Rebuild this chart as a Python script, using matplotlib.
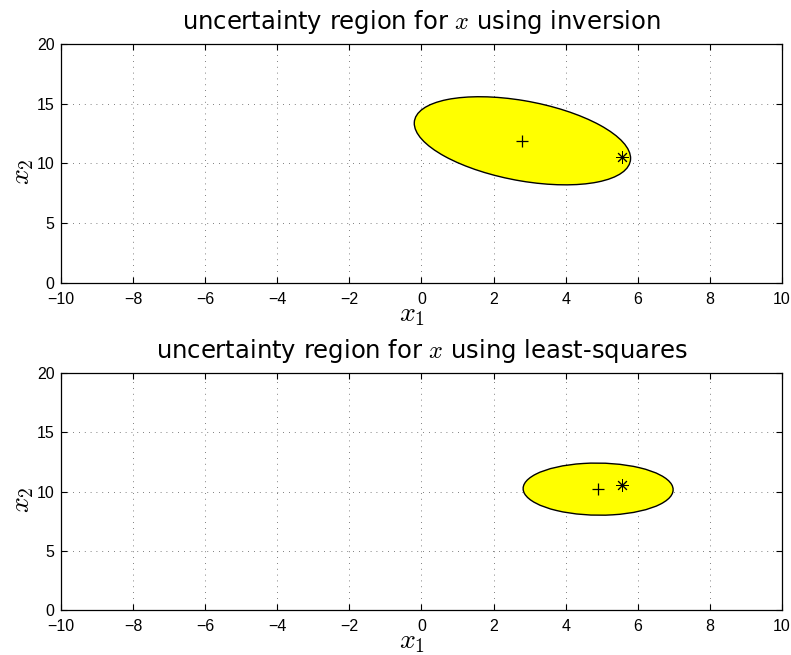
import numpy as np
import matplotlib
matplotlib.use("Agg")
import matplotlib.pyplot as plt
from matplotlib.patches import Ellipse

plt.rcParams['mathtext.fontset'] = 'cm'
plt.rcParams['font.family'] = ['DejaVu Sans']

# data
titles = ["uncertainty region for $x$ using inversion",
          "uncertainty region for $x$ using least-squares"]
centers = [(2.8, 11.9), (4.9, 10.2)]
shape_mats = [np.array([[9.0, -4.4], [-4.4, 13.6]]),
              np.array([[4.33, -0.1], [-0.1, 4.84]])]
x_true = (5.55, 10.55)
xlim = (-10, 10)
ylim = (0, 20)
xticks = [-10, -8, -6, -4, -2, 0, 2, 4, 6, 8, 10]
yticks = [0, 5, 10, 15, 20]

fig = plt.figure(figsize=(7.91, 6.55), dpi=100)
boxes = [[0.0771, 0.568, 0.9115, 0.3648], [0.0771, 0.0687, 0.9115, 0.3618]]

for i in range(2):
    ax = fig.add_axes(boxes[i])
    P = shape_mats[i]
    w, V = np.linalg.eigh(P)
    ang = np.degrees(np.arctan2(V[1, 1], V[0, 1]))
    e = Ellipse(centers[i], 2 * np.sqrt(w[1]), 2 * np.sqrt(w[0]), angle=ang,
                facecolor='#ffff00', edgecolor='black', lw=1.0, zorder=2)
    ax.add_patch(e)
    ax.plot([centers[i][0]], [centers[i][1]], marker='+', color='black',
            ms=9, mew=0.9, ls='none', zorder=3)
    ax.plot([x_true[0]], [x_true[1]], marker=(8, 2, 0), color='black',
            ms=9, mew=0.7, ls='none', zorder=3)
    ax.set_xlim(*xlim)
    ax.set_ylim(*ylim)
    ax.set_xticks(xticks)
    ax.set_yticks(yticks)
    ax.grid(True, color='#555555', linestyle=(0, (1, 6)), lw=0.6)
    ax.set_axisbelow(True)
    ax.tick_params(direction='in', length=4, width=0.8, top=True, right=True,
                   labelsize=11.5, colors='black')
    ax.tick_params(axis='x', pad=6.5)
    ax.tick_params(axis='y', pad=4.5)
    for lab in ax.get_xticklabels() + ax.get_yticklabels():
        lab.set_family(['Liberation Sans', 'DejaVu Sans'])
    for s in ax.spines.values():
        s.set_linewidth(0.9)
    ax.set_title(titles[i], fontsize=17.5, pad=10.5)
    ax.set_xlabel('$x_1$', fontsize=20)
    ax.set_ylabel('$x_2$', fontsize=20)
    ax.xaxis.set_label_coords(0.487, -0.13)
    ax.xaxis.label.set_va('center')
    ax.yaxis.set_label_coords(-0.054, 0.464)
    ax.yaxis.label.set_va('center')

fig.savefig('out.png', dpi=100)
